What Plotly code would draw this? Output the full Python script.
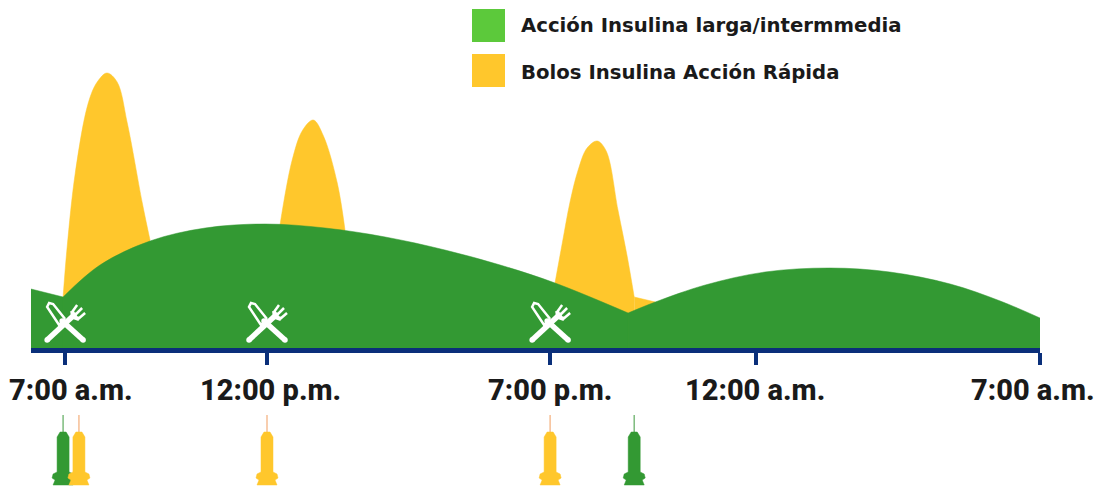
import plotly.graph_objects as go

# Action curves: hours after 7:00 a.m. and relative insulin action
basal_hours = [
    [-0.84, -0.05],
    [-0.05, 0.86, 2.09, 3.45, 4.92, 6.40, 7.88, 9.35, 10.71, 12.06, 13.86],
    [13.86, 14.53, 15.76, 17.23, 18.83, 20.30, 21.79, 23.02, 24.0],
]
basal_action = [
    [59, 51],
    [51, 83, 107, 120, 124, 120, 111, 98, 83, 65, 35],
    [35, 46, 63, 76, 80, 76, 64, 47, 30],
]
bolus_hours = [
    [-0.05, 0.05, 0.25, 0.57, 0.79, 1.03, 1.28, 1.53, 1.90, 2.09],
    [5.29, 5.59, 5.85, 6.11, 6.36, 6.70, 6.89],
    [12.06, 12.24, 12.43, 12.63, 12.85, 13.10, 13.32, 13.61, 13.84, 14.01],
    [14.01, 14.53],
]
bolus_action = [
    [51, 101, 175, 245, 266, 275, 266, 225, 145, 108],
    [123, 188, 218, 228, 212, 165, 118],
    [65, 105, 146, 178, 200, 207, 197, 138, 91, 51],
    [51, 46],
]

tick_hours = [0, 4.97, 11.94, 17, 24]
tick_labels = ["7:00 a.m.", "12:00 p.m.", "7:00 p.m.", "12:00 a.m.", "7:00 a.m."]
label_nudge = [6, 3, 0, -1, -7]

meal_hours = [0, 4.97, 11.94]
basal_doses = [-0.05, 14.01]
bolus_doses = [0.34, 4.97, 11.94]

legend_labels = ["Acción Insulina larga/intermmedia", "Bolos Insulina Acción Rápida"]

GREEN = "#339933"
LIGHT_GREEN = "#5CC93B"
YELLOW = "#FFC72C"
NAVY = "#0A2F7A"
INK = "#1A1A1A"

PX_PER_HOUR = 1009 / 24.84
fig = go.Figure()


def add_area(xs, ys, color):
    fig.add_trace(go.Scatter(
        x=xs, y=ys, mode="lines", fill="tozeroy", fillcolor=color,
        line=dict(color=color, width=0.5, shape="spline", smoothing=1.0),
        hoverinfo="skip", showlegend=False,
    ))


def stroke(x0, pts, width, axis="", color="white", caps=False):
    """Draw a polyline given as pixel offsets from an hour position."""
    fig.add_trace(go.Scatter(
        x=[x0 + p[0] / PX_PER_HOUR for p in pts], y=[p[1] for p in pts],
        mode="lines+markers" if caps else "lines",
        line=dict(color=color, width=width),
        marker=dict(color=color, size=width, line_width=0),
        xaxis="x" + axis, yaxis="y" + axis,
        hoverinfo="skip", showlegend=False,
    ))


for xs, ys in zip(bolus_hours, bolus_action):
    add_area(xs, ys, YELLOW)
for xs, ys in zip(basal_hours, basal_action):
    add_area(xs, ys, GREEN)
# Close the hairline seams where neighbouring green segments meet
for xs, ys in zip(basal_hours[1:], basal_action[1:]):
    stroke(xs[0], [(0, 0), (0, ys[0])], 1.5, color=GREEN)

# Crossed knife and fork at each meal
for h in meal_hours:
    stroke(h, [(18, 8), (-3, 27)], 5.5, caps=True)
    stroke(h, [(0, 29), (-12, 44), (-16, 45), (-18, 41), (-6, 23), (0, 29)], 2.5)
    stroke(h, [(-18, 8), (9, 33)], 5.5, caps=True)
    stroke(h, [(7, 37), (8, 31), (14, 29)], 4)
    stroke(h, [(7, 36), (12, 43)], 2.5)
    stroke(h, [(10, 33), (17, 40)], 2.5)
    stroke(h, [(13, 29), (20, 35)], 2.5)

# Syringes beneath the time axis
syringe = [(-6, 49), (-3, 54), (3, 54), (6, 49), (6, 14), (10, 12), (11, 8), (8, 6), (10, 1),
           (-10, 1), (-8, 6), (-11, 8), (-10, 12), (-6, 14), (-6, 49)]
for doses, body, needle in ((basal_doses, GREEN, "#7DBB7D"), (bolus_doses, YELLOW, "#F6BE94")):
    for h in doses:
        stroke(h, [(0, 52), (0, 71)], 1.5, "2", needle)
        fig.add_trace(go.Scatter(
            x=[h + p[0] / PX_PER_HOUR for p in syringe], y=[p[1] for p in syringe],
            mode="lines", fill="toself", fillcolor=body, line=dict(color=body, width=0.5),
            xaxis="x2", yaxis="y2", hoverinfo="skip", showlegend=False,
        ))

annotations = []
for h, text, nudge in zip(tick_hours, tick_labels, label_nudge):
    annotations.append(dict(
        x=h, y=0, xref="x", yref="y", yshift=-42, xshift=nudge, text=text, showarrow=False,
        xanchor="center", yanchor="middle",
        font=dict(family="Roboto", size=29, color=INK, weight=800),
    ))

shapes = []
for text, top, color, text_y in zip(legend_labels, (9, 54), (LIGHT_GREEN, YELLOW), (25, 72)):
    shapes.append(dict(type="rect", xref="paper", yref="paper", line_width=0, fillcolor=color,
                       x0=472 / 1098, x1=505 / 1098, y0=1 - (top + 33) / 486, y1=1 - top / 486))
    annotations.append(dict(
        x=519 / 1098, y=1 - text_y / 486, xref="paper", yref="paper", text=text, showarrow=False,
        xanchor="left", yanchor="middle",
        font=dict(family="DejaVu Sans", size=19.7, color=INK, weight=700),
    ))

fig.update_layout(
    width=1098, height=486, margin=dict(l=0, r=0, t=0, b=0),
    paper_bgcolor="white", plot_bgcolor="white", showlegend=False,
    shapes=shapes, annotations=annotations,
    xaxis=dict(domain=[31 / 1098, 1040 / 1098], range=[-0.84, 24], showgrid=False, zeroline=False,
               showline=True, linecolor=NAVY, linewidth=5, ticks="outside", tickcolor=NAVY,
               tickwidth=4, ticklen=12, tickvals=tick_hours, showticklabels=False, anchor="y"),
    yaxis=dict(domain=[138 / 486, 1], range=[0, 348], visible=False, anchor="x"),
    xaxis2=dict(domain=[31 / 1098, 1040 / 1098], range=[-0.84, 24], visible=False, anchor="y2"),
    yaxis2=dict(domain=[0, 76 / 486], range=[0, 76], visible=False, anchor="x2"),
)

fig.write_html("out.html", config=dict(displayModeBar=False))
